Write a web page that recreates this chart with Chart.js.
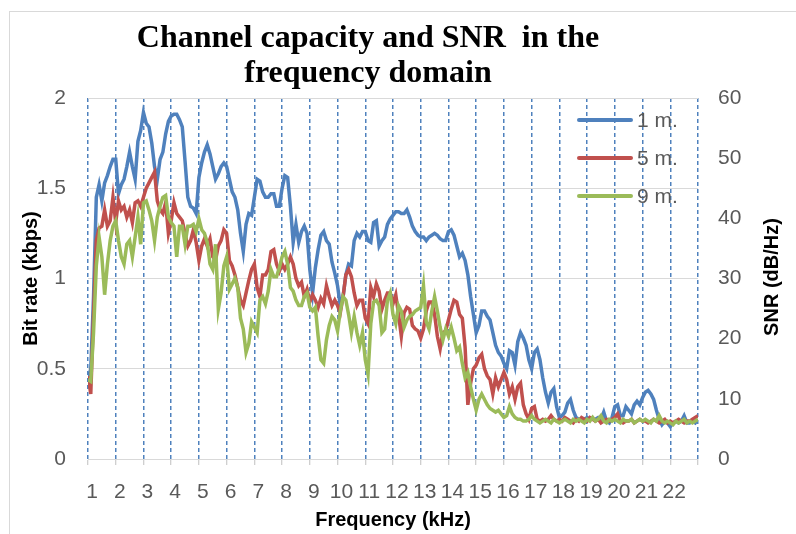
<!DOCTYPE html>
<html>
<head>
<meta charset="utf-8">
<script src="https://cdn.jsdelivr.net/npm/chart.js@4.4.1/dist/chart.umd.min.js"></script>
<style>
  html, body { margin: 0; padding: 0; background: #fff; overflow: hidden; }
  #wrap { position: relative; width: 796px; height: 534px; }
  #frame { position: absolute; left: 9px; top: 11px; width: 820px; height: 560px; border: 1px solid #d9d9d9; }
  #title { position: absolute; left: 0; top: 19px; width: 736px; text-align: center;
           font: bold 32px "Liberation Serif", serif; line-height: 35px; color: #000; }
  canvas { position: absolute; left: 0; top: 0; }
</style>
</head>
<body>
<div id="wrap">
  <div id="frame"></div>
  <canvas id="chart" width="796" height="534"></canvas>
  <div id="title">Channel capacity and SNR&nbsp; in the<br>frequency domain</div>
</div>
<script>
// frequency grid (kHz), one reading every 0.1 kHz from 1 to 23
var freq = [];
for (var i = 0; i <= 220; i++) freq.push(+(1 + i / 10).toFixed(1));

// bit rate (kbps), rows = 1.x, 2.x, ... kHz
var rate1m = [
  0.44, 0.50, 0.90, 1.45, 1.52, 1.43, 1.53, 1.57, 1.62, 1.66,
  1.66, 1.47, 1.52, 1.55, 1.62, 1.70, 1.62, 1.55, 1.76, 1.82,
  1.92, 1.86, 1.84, 1.75, 1.62, 1.55, 1.66, 1.70, 1.80, 1.87,
  1.90, 1.91, 1.91, 1.88, 1.84, 1.65, 1.45, 1.40, 1.39, 1.36,
  1.56, 1.64, 1.70, 1.74, 1.69, 1.62, 1.55, 1.58, 1.62, 1.64,
  1.62, 1.55, 1.48, 1.45, 1.38, 1.25, 1.15, 1.30, 1.36, 1.35,
  1.45, 1.55, 1.54, 1.48, 1.45, 1.45, 1.47, 1.47, 1.40, 1.40,
  1.50, 1.57, 1.56, 1.40, 1.20, 1.30, 1.20, 1.26, 1.29, 1.25,
  1.05, 0.92, 1.06, 1.16, 1.24, 1.26, 1.21, 1.19, 1.09, 1.03,
  0.96, 0.85, 0.90, 1.02, 1.08, 1.07, 1.21, 1.25, 1.23, 1.26,
  1.26, 1.21, 1.20, 1.31, 1.32, 1.18, 1.21, 1.23, 1.30, 1.33,
  1.35, 1.37, 1.37, 1.36, 1.36, 1.38, 1.34, 1.29, 1.26, 1.24,
  1.23, 1.23, 1.21, 1.23, 1.24, 1.25, 1.24, 1.22, 1.21, 1.21,
  1.26, 1.27, 1.24, 1.18, 1.12, 1.14, 1.10, 1.02, 0.90, 0.80,
  0.70, 0.74, 0.82, 0.82, 0.79, 0.77, 0.70, 0.63, 0.59, 0.57,
  0.53, 0.50, 0.60, 0.59, 0.52, 0.65, 0.70, 0.67, 0.63, 0.55,
  0.50, 0.59, 0.61, 0.55, 0.45, 0.37, 0.31, 0.37, 0.39, 0.29,
  0.23, 0.24, 0.26, 0.31, 0.33, 0.27, 0.23, 0.22, 0.22, 0.22,
  0.23, 0.22, 0.22, 0.22, 0.23, 0.22, 0.26, 0.21, 0.20, 0.23,
  0.29, 0.30, 0.24, 0.24, 0.29, 0.27, 0.25, 0.30, 0.32, 0.30,
  0.34, 0.37, 0.38, 0.36, 0.33, 0.27, 0.22, 0.19, 0.21, 0.20,
  0.18, 0.20, 0.21, 0.20, 0.21, 0.24, 0.20, 0.20, 0.21, 0.20,
  0.22
];

var rate5m = [
  0.46, 0.36, 0.80, 1.21, 1.28, 1.29, 1.38, 1.29, 1.32, 1.45,
  1.31, 1.43, 1.38, 1.40, 1.34, 1.38, 1.31, 1.42, 1.43, 1.40,
  1.45, 1.50, 1.53, 1.56, 1.59, 1.43, 1.38, 1.36, 1.42, 1.25,
  1.32, 1.42, 1.36, 1.34, 1.32, 1.25, 1.18, 1.21, 1.27, 1.20,
  1.10, 1.18, 1.22, 1.18, 1.22, 1.12, 1.10, 1.18, 1.21, 1.27,
  1.25, 1.10, 1.07, 1.02, 0.95, 0.88, 0.85, 0.92, 0.99, 1.05,
  1.08, 0.95, 0.90, 1.02, 1.02, 1.05, 1.15, 1.16, 1.08, 1.04,
  1.08, 1.05, 1.08, 1.12, 1.08, 1.00, 0.96, 0.98, 0.90, 0.94,
  0.87, 0.91, 0.88, 0.84, 0.89, 0.86, 0.96, 0.90, 0.85, 0.88,
  0.85, 0.81, 0.90, 1.02, 1.05, 1.01, 0.92, 0.85, 0.88, 0.88,
  0.78, 0.75, 0.95, 0.90, 0.97, 0.93, 0.83, 0.88, 0.92, 0.92,
  0.86, 0.91, 0.80, 0.68, 0.81, 0.84, 0.83, 0.74, 0.72, 0.71,
  0.67, 0.72, 0.82, 0.87, 0.87, 0.80, 0.68, 0.61, 0.70, 0.71,
  0.77, 0.83, 0.88, 0.87, 0.80, 0.78, 0.62, 0.30, 0.42, 0.50,
  0.52, 0.56, 0.58, 0.50, 0.46, 0.44, 0.36, 0.45, 0.40, 0.44,
  0.48, 0.44, 0.36, 0.40, 0.33, 0.40, 0.42, 0.30, 0.25, 0.22,
  0.28, 0.29, 0.22, 0.21, 0.22, 0.21, 0.22, 0.24, 0.22, 0.21,
  0.22, 0.21, 0.23, 0.22, 0.21, 0.20, 0.22, 0.21, 0.23, 0.22,
  0.21, 0.23, 0.22, 0.21, 0.22, 0.20, 0.21, 0.22, 0.21, 0.22,
  0.23, 0.25, 0.21, 0.20, 0.21, 0.21, 0.22, 0.20, 0.21, 0.22,
  0.21, 0.21, 0.20, 0.21, 0.22, 0.21, 0.20, 0.21, 0.22, 0.20,
  0.21, 0.20, 0.21, 0.22, 0.21, 0.20, 0.21, 0.21, 0.22, 0.23,
  0.24
];

var rate9m = [
  0.44, 0.43, 0.70, 1.07, 1.23, 1.12, 0.91, 1.08, 1.21, 1.29,
  1.32, 1.21, 1.12, 1.08, 1.19, 1.21, 1.12, 1.23, 1.34, 1.19,
  1.42, 1.43, 1.38, 1.32, 1.21, 1.34, 1.40, 1.45, 1.46, 1.34,
  1.31, 1.29, 1.12, 1.29, 1.29, 1.19, 1.29, 1.29, 1.30, 1.26,
  1.33, 1.27, 1.25, 1.20, 1.08, 1.05, 1.19, 0.83, 0.92, 1.07,
  1.12, 0.94, 0.97, 1.00, 0.95, 0.78, 0.72, 0.59, 0.64, 0.76,
  0.73, 0.70, 0.88, 0.90, 0.86, 0.93, 1.05, 1.01, 1.01, 1.06,
  1.12, 1.15, 1.08, 0.95, 0.93, 0.88, 0.85, 0.85, 0.90, 0.92,
  0.84, 0.82, 0.84, 0.68, 0.55, 0.53, 0.66, 0.74, 0.79, 0.77,
  0.71, 0.82, 0.90, 0.88, 0.80, 0.70, 0.79, 0.70, 0.63, 0.70,
  0.55, 0.47, 0.75, 0.87, 0.88, 0.85, 0.70, 0.72, 0.88, 0.92,
  0.80, 0.75, 0.85, 0.82, 0.73, 0.77, 0.79, 0.80, 0.82, 0.83,
  0.84, 0.96, 0.76, 0.72, 0.82, 0.90, 0.82, 0.73, 0.66, 0.72,
  0.68, 0.73, 0.67, 0.60, 0.62, 0.53, 0.45, 0.48, 0.40, 0.33,
  0.27, 0.33, 0.36, 0.33, 0.30, 0.28, 0.27, 0.26, 0.27, 0.25,
  0.23, 0.24, 0.29, 0.25, 0.23, 0.22, 0.22, 0.21, 0.21, 0.22,
  0.24, 0.22, 0.21, 0.20, 0.21, 0.22, 0.21, 0.20, 0.22, 0.21,
  0.20, 0.21, 0.22, 0.21, 0.20, 0.22, 0.21, 0.22, 0.21, 0.20,
  0.22, 0.21, 0.23, 0.21, 0.22, 0.24, 0.21, 0.20, 0.22, 0.21,
  0.22, 0.21, 0.20, 0.22, 0.21, 0.21, 0.22, 0.20, 0.21, 0.22,
  0.21, 0.22, 0.21, 0.20, 0.22, 0.21, 0.24, 0.21, 0.20, 0.21,
  0.20, 0.19, 0.21, 0.20, 0.21, 0.22, 0.20, 0.21, 0.20, 0.21,
  0.22
];

var seriesNames = ['1 m.', '5 m.', '9 m.'];
var seriesColors = ['#4F81BD', '#C0504D', '#9BBB59'];
var rateTicks = [0, 0.5, 1, 1.5, 2];
var snrTicks = [0, 10, 20, 30, 40, 50, 60];

function toPoints(values) {
  return values.map(function (v, i) { return { x: freq[i], y: v }; });
}

var tickFont = { family: '"Liberation Sans", Arial, sans-serif', size: 21 };
var titleFont = { family: '"Liberation Sans", Arial, sans-serif', size: 20, weight: 'bold' };

// legend + right axis title, drawn inside the plot like the spreadsheet does
var overlay = {
  id: 'overlay',
  afterDraw: function (chart) {
    var ctx = chart.ctx;
    ctx.save();
    chart.data.datasets.forEach(function (ds, i) {
      var y = 120 + i * 38;
      ctx.strokeStyle = ds.borderColor;
      ctx.lineWidth = 4;
      ctx.lineCap = 'round';
      ctx.beginPath();
      ctx.moveTo(579, y);
      ctx.lineTo(631, y);
      ctx.stroke();
      ctx.fillStyle = '#595959';
      ctx.font = '21px "Liberation Sans", Arial, sans-serif';
      ctx.textBaseline = 'middle';
      ctx.fillText(ds.label, 637, y + 1);
    });
    ctx.translate(772, 277);
    ctx.rotate(-Math.PI / 2);
    ctx.font = 'bold 20px "Liberation Sans", Arial, sans-serif';
    ctx.fillStyle = '#000';
    ctx.textAlign = 'center';
    ctx.textBaseline = 'middle';
    ctx.fillText('SNR (dB/Hz)', 0, 0);
    ctx.restore();
  }
};

var datasets = [rate1m, rate5m, rate9m].map(function (vals, i) {
  return {
    label: seriesNames[i],
    data: toPoints(vals),
    borderColor: seriesColors[i],
    backgroundColor: seriesColors[i],
    borderWidth: 3.5,
    pointRadius: 0,
    tension: 0,
    fill: false,
    yAxisID: 'y',
    order: 3 - i
  };
});

new Chart(document.getElementById('chart'), {
  type: 'line',
  data: { datasets: datasets },
  plugins: [overlay],
  options: {
    responsive: false,
    animation: false,
    devicePixelRatio: 1,
    layout: { padding: { top: 98, left: 0, right: 0, bottom: 0 } },
    plugins: { legend: { display: false }, tooltip: { enabled: false }, title: { display: false } },
    scales: {
      x: {
        type: 'linear',
        min: 1,
        max: 23,
        afterFit: function (s) { s.height = 75; },
        ticks: {
          stepSize: 1,
          color: '#595959',
          font: tickFont,
          padding: 15,
          labelOffset: 4,
          maxRotation: 0,
          autoSkip: false,
          callback: function (v) { return v === 23 ? '' : String(v); }
        },
        grid: { color: '#4F81BD', lineWidth: 1.5, tickColor: '#bfbfbf', tickLength: 6, tickWidth: 1 },
        border: { display: true, color: '#d9d9d9', width: 1, dash: [4, 3] },
        title: { display: true, text: 'Frequency (kHz)', color: '#000', font: titleFont, padding: { top: 0, bottom: 2 } }
      },
      y: {
        position: 'left',
        min: 0,
        max: 2,
        afterFit: function (s) { s.width = 88; },
        afterBuildTicks: function (s) { s.ticks = rateTicks.map(function (v) { return { value: v }; }); },
        ticks: { color: '#595959', font: tickFont, padding: 22, callback: function (v) { return String(v); } },
        grid: { color: '#d9d9d9', lineWidth: 1, drawTicks: false },
        border: { display: false },
        title: { display: true, text: 'Bit rate (kbps)', color: '#000', font: titleFont, padding: { top: 19, bottom: 0 } }
      },
      snr: {
        position: 'right',
        min: 0,
        max: 60,
        afterFit: function (s) { s.width = 98; },
        afterBuildTicks: function (s) { s.ticks = snrTicks.map(function (v) { return { value: v }; }); },
        ticks: { color: '#595959', font: tickFont, padding: 20, callback: function (v) { return String(v); } },
        grid: { drawOnChartArea: false, drawTicks: false },
        border: { display: false }
      }
    }
  }
});
</script>
</body>
</html>
